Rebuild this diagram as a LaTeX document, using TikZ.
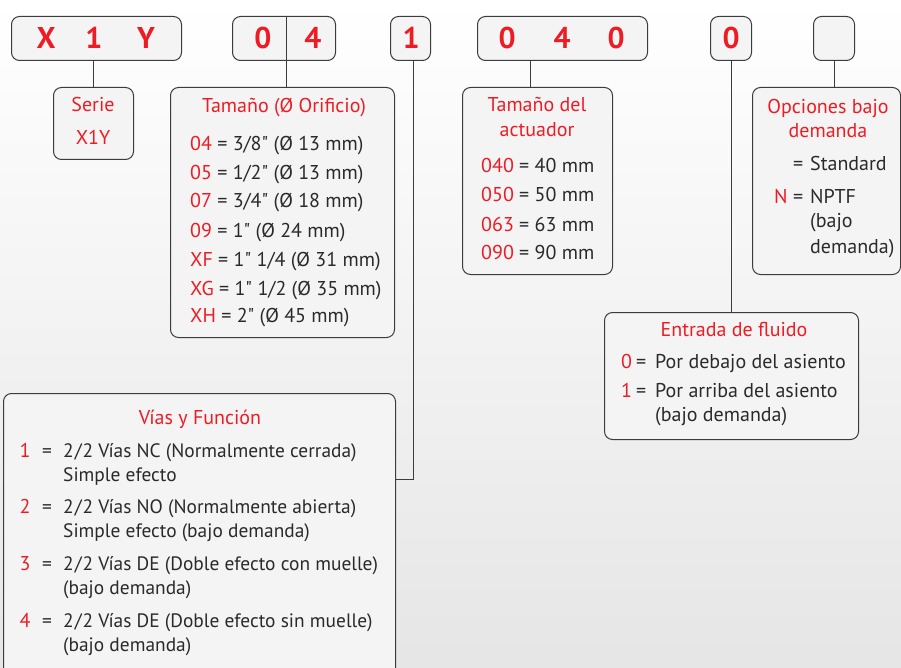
\documentclass[tikz,border=0pt]{standalone}
\usepackage{fontspec}
\setmainfont{PT Sans}[Ligatures=TeXOff]
\definecolor{myred}{HTML}{ED1C24}
\definecolor{tgray}{HTML}{2A2A2A}
\definecolor{boxfill}{HTML}{F4F4F4}
\definecolor{boxline}{HTML}{3C3C3C}
\newcommand\bodyf{\fontsize{20}{24}\selectfont}
\newcommand\viaf{\fontsize{19.4}{24}\selectfont}
\newcommand\eqb[1]{\makebox[#1][l]{=}}
\begin{document}
\begin{tikzpicture}[x=1pt,y=-1pt,
  box/.style={draw=boxline, fill=boxfill, line width=1pt, rounded corners=8pt, anchor=north west, inner sep=0pt},
  conn/.style={draw=boxline, line width=1pt},
  txt/.style={anchor=base west, inner sep=0pt, text=tgray, font=\bodyf},
  vtxt/.style={anchor=base west, inner sep=0pt, text=tgray, font=\viaf},
  num/.style={anchor=base, inner sep=0pt, text=myred, font=\bodyf},
  ttl/.style={anchor=base, inner sep=0pt, text=myred, font=\bodyf},
  big/.style={anchor=base, inner sep=0pt, text=myred, font=\fontsize{30}{36}\selectfont\bfseries}]
\useasboundingbox (0,0) rectangle (901,668);
\clip (0,0) rectangle (901,668);
\shade[top color=white, bottom color=black!10] (0,0) rectangle (901,668);

% code boxes
\node[box, minimum width=170pt, minimum height=44pt] (x1y) at (11,16) {};
\node[box, minimum width=103pt, minimum height=44pt] (b04) at (232,16) {};
\node[box, minimum width=40pt, minimum height=44pt] (b1) at (390,16) {};
\node[box, minimum width=170pt, minimum height=44pt] (b040) at (477,16) {};
\node[box, minimum width=41pt, minimum height=44pt] (b0) at (710,16) {};
\node[box, minimum width=41pt, minimum height=44pt] (bopt) at (813,16) {};

% description boxes
\node[box, minimum width=80pt, minimum height=72pt] (serie) at (53,87) {};
\node[box, minimum width=224pt, minimum height=250pt] (tam) at (170,87) {};
\node[box, minimum width=150pt, minimum height=187pt] (act) at (462,87) {};
\node[box, minimum width=148pt, minimum height=187pt] (opc) at (752,87) {};
\node[box, minimum width=254pt, minimum height=127pt] (ent) at (604,312) {};
\node[box, minimum width=392pt, minimum height=300pt] (vias) at (3,393) {};

% connectors
\draw[conn] (serie.north) -- (serie.north |- x1y.south);
\coordinate (d04) at (286,16);
\draw[conn] (d04) -- (d04 |- tam.north);
\coordinate (k1) at (413,479);
\draw[conn] (k1 |- b1.south) -- (k1) -- (k1 -| vias.east);
\coordinate (k2) at (530,0);
\draw[conn] (k2 |- b040.south) -- (k2 |- act.north);
\draw[conn] (b0.south) -- (b0.south |- ent.north);
\coordinate (k3) at (834,0);
\draw[conn] (k3 |- bopt.south) -- (k3 |- opc.north);

% code letters
\node[big] (cx) at (46,49) {X};
\node[big] (c1) at (94,49) {1};
\node[big] (cy) at (146,49) {Y};
\node[big] (c0a) at (263,49) {0};
\node[big] (c4a) at (313,49) {4};
\node[big] (c1b) at (411,49) {1};
\node[big] (c0b) at (507,49) {0};
\node[big] (c4b) at (562,49) {4};
\node[big] (c0c) at (616,49) {0};
\node[big] (c0d) at (731,49) {0};

% Serie
\node[ttl] (s1) at (93,112) {Serie};
\node[ttl] (s2) at (93,145) {X1Y};

% Tamaño
\node[ttl] (t0) at (284,113) {Tamaño (Ø Orificio)};
\node[txt] (t1) at (190,151) {\textcolor{myred}{04} = 3/8" (Ø 13 mm)};
\node[txt] (t2) at (190,180) {\textcolor{myred}{05} = 1/2" (Ø 13 mm)};
\node[txt] (t3) at (190,208) {\textcolor{myred}{07} = 3/4" (Ø 18 mm)};
\node[txt] (t4) at (190,237) {\textcolor{myred}{09} = 1" (Ø 24 mm)};
\node[txt] (t5) at (190,266) {\textcolor{myred}{XF} = 1" 1/4 (Ø 31 mm)};
\node[txt] (t6) at (190,295) {\textcolor{myred}{XG} = 1" 1/2 (Ø 35 mm)};
\node[txt] (t7) at (190,322) {\textcolor{myred}{XH} = 2" (Ø 45 mm)};

% Actuador
\node[ttl] (a0) at (537,112) {Tamaño del};
\node[ttl] (a0b) at (537,137) {actuador};
\node[txt] (a1) at (481,173) {\textcolor{myred}{040} = 40 mm};
\node[txt] (a2) at (481,202) {\textcolor{myred}{050} = 50 mm};
\node[txt] (a3) at (481,231) {\textcolor{myred}{063} = 63 mm};
\node[txt] (a4) at (481,259) {\textcolor{myred}{090} = 90 mm};

% Opciones
\node[ttl] (o0) at (828,114) {Opciones bajo};
\node[ttl] (o0b) at (828,138) {demanda};
\node[txt] (o1) at (793,171) {\eqb{17pt}Standard};
\node[txt, text=myred] (o2n) at (774,204) {N};
\node[txt] (o2) at (793,204) {\eqb{17pt}NPTF};
\node[txt] (o3) at (810,228) {(bajo};
\node[txt] (o4) at (810,253) {demanda)};

% Entrada
\node[ttl] (e0) at (734,336) {Entrada de fluido};
\node[txt, text=myred] (e1n) at (621,368) {0};
\node[txt] (e1) at (636,368) {\eqb{19pt}Por debajo del asiento};
\node[txt, text=myred] (e2n) at (621,397) {1};
\node[txt] (e2) at (636,397) {\eqb{19pt}Por arriba del asiento};
\node[txt] (e3) at (655,421) {(bajo demanda)};

% Vias
\node[ttl] (v0) at (200,424) {Vías y Función};
\node[num] (v1n) at (25,457) {1};
\node[vtxt] (v1) at (42,457) {\eqb{21pt}2\kern1pt/\kern1pt2 Vías NC (Normalmente cerrada)};
\node[vtxt] (v1b) at (63,481) {Simple efecto};
\node[num] (v2n) at (25,513) {2};
\node[vtxt] (v2) at (42,513) {\eqb{21pt}2\kern1pt/\kern1pt2 Vías NO (Normalmente abierta)};
\node[vtxt] (v2b) at (63,537) {Simple efecto (bajo demanda)};
\node[num] (v3n) at (25,570) {3};
\node[vtxt] (v3) at (42,570) {\eqb{21pt}2\kern1pt/\kern1pt2 Vías DE (Doble efecto con muelle)};
\node[vtxt] (v3b) at (63,594) {(bajo demanda)};
\node[num] (v4n) at (25,627) {4};
\node[vtxt] (v4) at (42,627) {\eqb{21pt}2\kern1pt/\kern1pt2 Vías DE (Doble efecto sin muelle)};
\node[vtxt] (v4b) at (63,651) {(bajo demanda)};
\end{tikzpicture}
\end{document}
